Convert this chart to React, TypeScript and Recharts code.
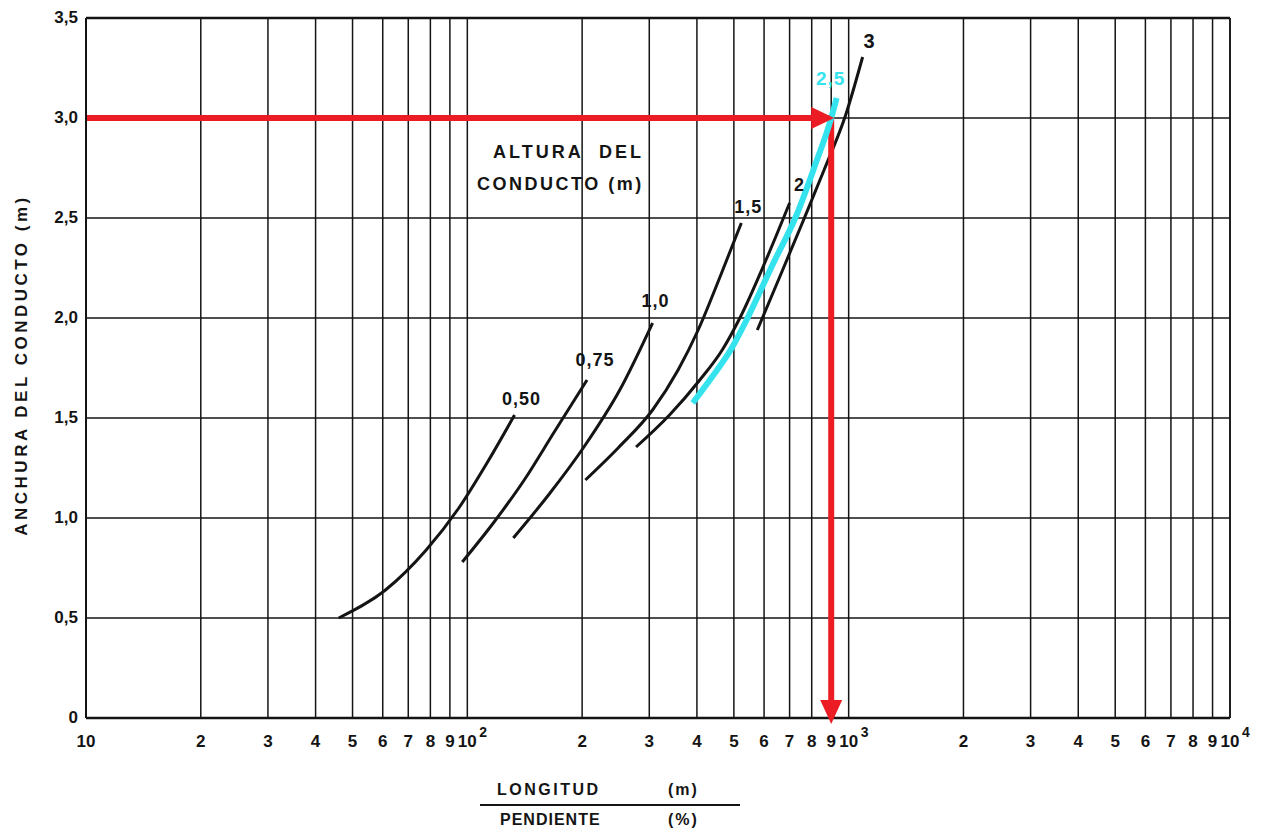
import React from "react";
import { LineChart, Line, XAxis, YAxis, CartesianGrid, ReferenceLine } from "recharts";

// eje X: longitud / pendiente (escala log), eje Y: anchura del conducto (m)
const xTicks = [
  10, 20, 30, 40, 50, 60, 70, 80, 90,
  100, 200, 300, 400, 500, 600, 700, 800, 900,
  1000, 2000, 3000, 4000, 5000, 6000, 7000, 8000, 9000, 10000,
];
const xTickLabels = [
  "10", "2", "3", "4", "5", "6", "7", "8", "9",
  "10^2", "2", "3", "4", "5", "6", "7", "8", "9",
  "10^3", "2", "3", "4", "5", "6", "7", "8", "9", "10^4",
];
const yTicks = [0, 0.5, 1, 1.5, 2, 2.5, 3, 3.5];
const yTickLabels = ["0", "0,5", "1,0", "1,5", "2,0", "2,5", "3,0", "3,5"];

// curvas por altura del conducto: [longitud/pendiente, anchura]
const curve050 = [[46, 0.5], [61, 0.64], [78, 0.84], [95, 1.05], [113, 1.28], [133, 1.515]];
const curve075 = [[97, 0.78], [117, 0.975], [141, 1.19], [169, 1.43], [206, 1.69]];
const curve100 = [[132, 0.9], [164, 1.12], [203, 1.36], [251, 1.64], [306, 1.975]];
const curve150 = [[204, 1.19], [250, 1.355], [306, 1.54], [357, 1.74], [403, 1.94], [462, 2.215], [523, 2.475]];
const curve200 = [[277, 1.355], [339, 1.515], [407, 1.69], [466, 1.84], [520, 2.005], [607, 2.29], [700, 2.575]];
const curve300 = [[576, 1.94], [656, 2.195], [752, 2.465], [862, 2.74], [982, 3.015], [1088, 3.305]];
const curve250 = [[390, 1.575], [440, 1.71], [492, 1.845], [543, 2.0], [633, 2.27], [730, 2.515], [815, 2.76], [900, 3.0], [930, 3.1]];

// lectura: anchura 3,0 m -> L/P = 900
const readH = [[10, 3.0], [900, 3.0]];
const readV = [[900, 3.0], [900, 0]];

const toPoints = (arr: number[][]) => arr.map(([x, y]) => ({ x, y }));

const FONT = "'Liberation Sans', Arial, sans-serif";
const INK = "#141414";
const RED = "#ec1c24";
const CYAN = "#35e3ee";

const XTick = (props: any) => {
  const { x, y, payload } = props;
  const label = xTickLabels[xTicks.indexOf(payload.value)] ?? "";
  const [base, sup] = label.split("^");
  return (
    <g fontFamily={FONT} fontWeight="bold" fill={INK}>
      <text x={x} y={y + 21} textAnchor="middle" fontSize={17}>{base}</text>
      {sup && <text x={x + 12} y={y + 11} textAnchor="start" fontSize={14}>{sup}</text>}
    </g>
  );
};

const YTick = (props: any) => {
  const { x, y, payload } = props;
  const label = yTickLabels[yTicks.indexOf(payload.value)] ?? "";
  return (
    <text x={x} y={y + 5} textAnchor="end" fontSize={17} fontWeight="bold" fontFamily={FONT} fill={INK}>
      {label}
    </text>
  );
};

// marca al final de una serie (etiqueta o punta de flecha)
const endMark = (last: number, draw: (cx: number, cy: number) => React.ReactNode) => (props: any) => {
  const { cx, cy, index } = props;
  if (index !== last || cx == null) return <g key={`m-${index}`} />;
  return <g key={`m-${index}`}>{draw(cx, cy)}</g>;
};

const curveLabel = (data: number[][], text: string, dx: number, dy: number, color = INK, size = 18) =>
  endMark(data.length - 1, (cx, cy) => (
    <text x={cx + dx} y={cy + dy} textAnchor="middle" fontSize={size} fontWeight="bold" fontFamily={FONT} fill={color} letterSpacing={1}>
      {text}
    </text>
  ));

const arrowRight = endMark(readH.length - 1, (cx, cy) => (
  <polygon points={`${cx + 3},${cy} ${cx - 20},${cy - 11} ${cx - 20},${cy + 11}`} fill={RED} />
));
const arrowDown = endMark(readV.length - 1, (cx, cy) => (
  <polygon points={`${cx},${cy + 6} ${cx - 11},${cy - 18} ${cx + 11},${cy - 18}`} fill={RED} />
));

const Txt = ({ left, top, size = 16, spacing = 2, children }: any) => (
  <div
    style={{
      position: "absolute",
      left,
      top,
      transform: "translateY(-50%)",
      fontFamily: FONT,
      fontWeight: "bold",
      fontSize: size,
      letterSpacing: spacing,
      color: INK,
      whiteSpace: "pre",
      lineHeight: 1,
    }}
  >
    {children}
  </div>
);

export default function App() {
  const black = { type: "monotone" as const, dataKey: "y", stroke: INK, strokeWidth: 3, activeDot: false, isAnimationActive: false };
  return (
    <div style={{ position: "relative", width: 1271, height: 827 }}>
      <LineChart width={1271} height={827} margin={{ top: 10, right: 49, bottom: 77, left: 0 }}>
        <CartesianGrid stroke={INK} strokeWidth={1.5} />
        <XAxis
          type="number"
          dataKey="x"
          scale="log"
          domain={[10, 10000]}
          ticks={xTicks}
          interval={0}
          tick={<XTick />}
          tickLine={false}
          axisLine={{ stroke: INK, strokeWidth: 2.5 }}
          height={40}
        />
        <YAxis
          type="number"
          dataKey="y"
          domain={[0, 3.5]}
          ticks={yTicks}
          interval={0}
          tick={<YTick />}
          tickLine={false}
          axisLine={{ stroke: INK, strokeWidth: 2 }}
          width={78}
        />
        <ReferenceLine y={3.5} stroke={INK} strokeWidth={2.5} />
        <ReferenceLine x={10000} stroke={INK} strokeWidth={1.6} />

        <Line {...black} data={toPoints(curve050)} dot={curveLabel(curve050, "0,50", 7, -10)} />
        <Line {...black} data={toPoints(curve075)} dot={curveLabel(curve075, "0,75", 8, -14)} />
        <Line {...black} data={toPoints(curve100)} dot={curveLabel(curve100, "1,0", 3, -16)} />
        <Line {...black} data={toPoints(curve150)} dot={curveLabel(curve150, "1,5", 7, -10)} />
        <Line {...black} data={toPoints(curve200)} dot={curveLabel(curve200, "2", 10, -12)} />
        <Line {...black} data={toPoints(curve300)} dot={curveLabel(curve300, "3", 7, -9, INK, 20)} />

        <Line type="linear" data={toPoints(readH)} dataKey="y" stroke={RED} strokeWidth={6} dot={arrowRight} activeDot={false} isAnimationActive={false} />
        <Line type="linear" data={toPoints(readV)} dataKey="y" stroke={RED} strokeWidth={6} dot={arrowDown} activeDot={false} isAnimationActive={false} />

        <Line
          type="monotone"
          data={toPoints(curve250)}
          dataKey="y"
          stroke={CYAN}
          strokeWidth={6}
          dot={curveLabel(curve250, "2,5", -6, -13, CYAN, 19)}
          activeDot={false}
          isAnimationActive={false}
        />
      </LineChart>

      <div
        style={{
          position: "absolute",
          left: 14,
          top: 357,
          transform: "translate(-50%, -50%) rotate(-90deg)",
          fontFamily: FONT,
          fontWeight: "bold",
          fontSize: 17,
          letterSpacing: 3.5,
          color: INK,
          whiteSpace: "nowrap",
        }}
      >
        ANCHURA DEL CONDUCTO (m)
      </div>

      <Txt left={485} top={144} size={18} spacing={3}>{"ALTURA  DEL"}</Txt>
      <Txt left={469} top={176} size={18} spacing={2.5}>{"CONDUCTO (m)"}</Txt>

      <Txt left={489} top={782} size={16} spacing={2.5}>LONGITUD</Txt>
      <Txt left={660} top={782} size={16} spacing={2}>(m)</Txt>
      <div style={{ position: "absolute", left: 472, top: 796, width: 260, height: 2, background: INK }} />
      <Txt left={492} top={812} size={16} spacing={1}>PENDIENTE</Txt>
      <Txt left={660} top={812} size={16} spacing={2}>(%)</Txt>
    </div>
  );
}
